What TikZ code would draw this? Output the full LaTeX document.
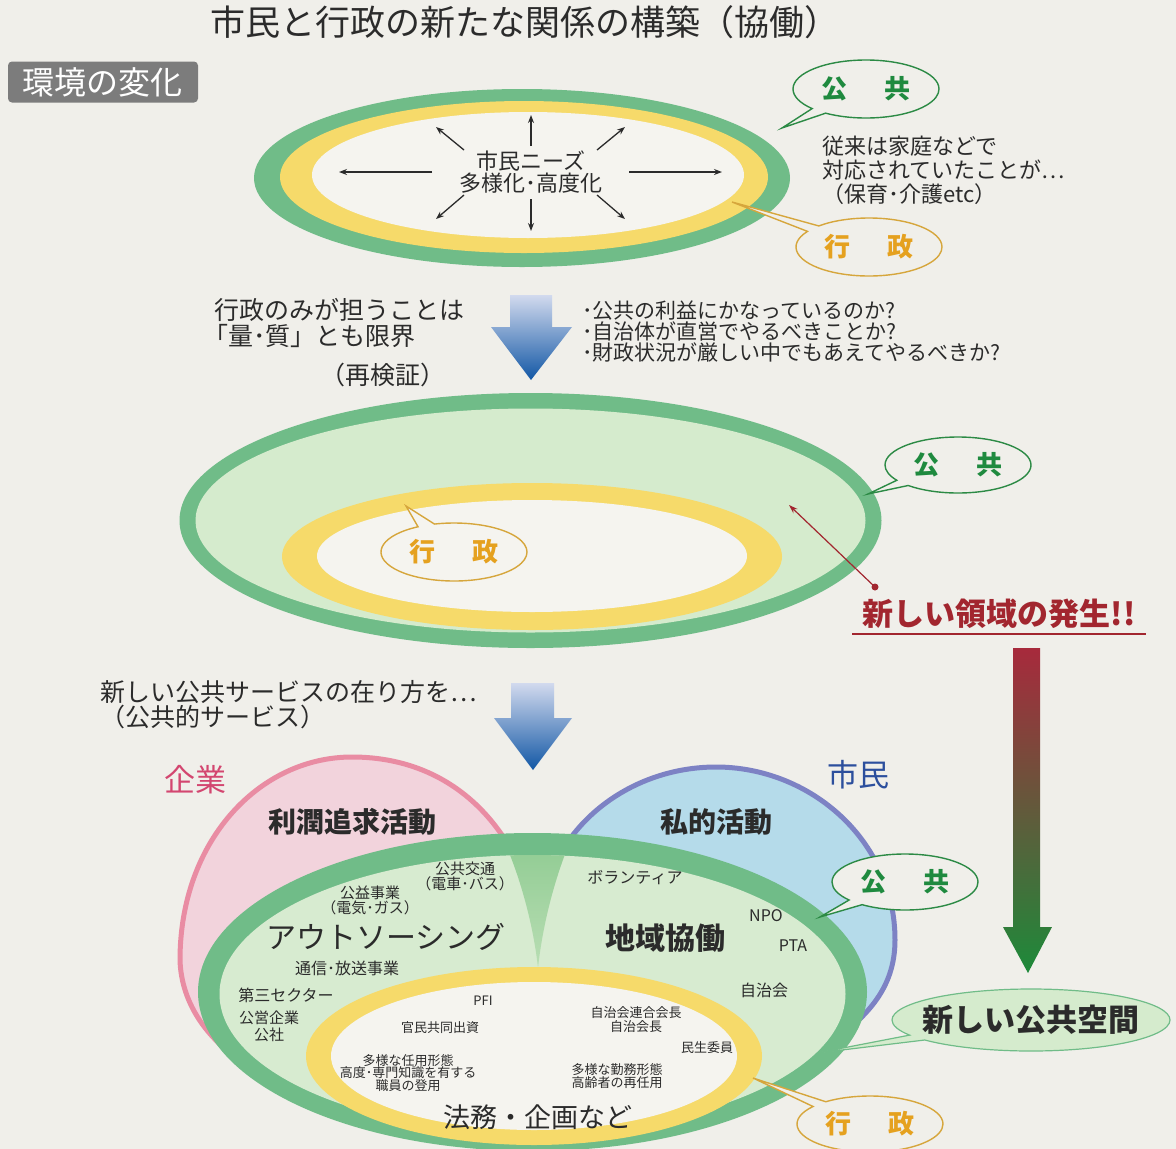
\documentclass[tikz,border=0pt]{standalone}
\usepackage{fontspec}
\setmainfont{Noto Sans CJK JP}
\usetikzlibrary{shapes.geometric,shapes.callouts,arrows.meta}
\newcommand\fsz[2]{\fontsize{#1pt}{#2pt}\selectfont}
\definecolor{paper}{HTML}{F0EFEA}
\definecolor{gband}{HTML}{70BC88}
\definecolor{yband}{HTML}{F6DA6A}
\definecolor{inwhite}{HTML}{F5F4EF}
\definecolor{lgreen}{HTML}{D5EBCD}
\definecolor{lgreentwo}{HTML}{D7EBD0}
\definecolor{kgreen}{HTML}{1F8A3F}
\definecolor{kline}{HTML}{2C8A45}
\definecolor{kgold}{HTML}{E5A11F}
\definecolor{gline}{HTML}{D6A63C}
\definecolor{pinkline}{HTML}{E98CA3}
\definecolor{pinkfill}{HTML}{F2D3DC}
\definecolor{blueline}{HTML}{7D82C4}
\definecolor{bluefill}{HTML}{B5DBEA}
\definecolor{kigyo}{HTML}{D34670}
\definecolor{shimin}{HTML}{2C4F9D}
\definecolor{darkred}{HTML}{A2262F}
\definecolor{txt}{HTML}{2B2B2B}
\definecolor{boxgray}{HTML}{7C7C7C}
\definecolor{arrowlight}{HTML}{D2DAEE}
\definecolor{arrowdark}{HTML}{1257A5}
\definecolor{lensone}{HTML}{8DCA90}
\definecolor{lenstwo}{HTML}{B9DEB4}
\definecolor{gradred}{HTML}{A72A3C}
\definecolor{gradmid}{HTML}{73803A}
\definecolor{gradgreen}{HTML}{1D8A3A}
\begin{document}
\begin{tikzpicture}[x=1pt,y=-1pt,
  lbl/.style={inner sep=0pt, text=txt, align=center},
  bubble/.style={ellipse callout, draw, line width=1.4pt, inner sep=0pt, minimum width=146pt, minimum height=58pt, fill=paper, callout pointer arc=14},
  kokyo/.style={bubble, draw=kline, text=kgreen, font=\fsz{26}{28}\bfseries},
  gyosei/.style={bubble, draw=gline, text=kgold, font=\fsz{26}{28}\bfseries},
  needarrow/.style={draw=txt, line width=1.3pt, -{Stealth[length=8pt,width=6pt]}},
  small/.style={lbl, font=\fsz{13}{12.5}},
  mid/.style={lbl, font=\fsz{15}{15}},
]
\fill[paper] (0,0) rectangle (1176,1149);
\useasboundingbox (0,0) rectangle (1176,1149);

% ---------- title
\node[lbl, font=\fsz{35}{37}] (title) at (525,22) {市民と行政の新たな関係の構築（協働）};
\node[fill=boxgray, rounded corners=4pt, text=white, font=\fsz{32}{34}, minimum width=190pt, minimum height=41pt, inner sep=0pt] (env) at (103,82) {環境の変化};

% ---------- top ellipse
\fill[gband] (522,178) ellipse [x radius=268pt, y radius=89pt];
\fill[yband] (524,177) ellipse [x radius=244pt, y radius=76pt];
\fill[inwhite] (528,175) ellipse [x radius=216pt, y radius=63pt];
\node[lbl, font=\fsz{22}{22}] (needs) at (531,172) {市民ニーズ\\多様化･高度化};
\foreach \n/\sx/\sy/\ex/\ey in {L/432/172/339/172, R/629/172/722/172, U/531/146/531/115, D/531/199/531/231, UL/464/150/436/127, UR/597/150/625/127, DL/464/195/436/219, DR/597/195/625/219}{
  \coordinate (s\n) at (\sx,\sy);
  \coordinate (e\n) at (\ex,\ey);
  \draw[needarrow] (s\n) -- (e\n);
}
\node[kokyo, callout absolute pointer={(782,128)}] (k1) at (866,89) {公\hspace{38pt}共};
\node[lbl, align=left, anchor=west, font=\fsz{22}{24}] (former) at (822,170) {従来は家庭などで\\対応されていたことが…\\（保育･介護etc）};
\node[gyosei, callout absolute pointer={(732,202)}] (g1) at (869,247) {行\hspace{38pt}政};

% ---------- arrow 1 and texts
\shade[top color=arrowlight, bottom color=arrowdark] (510,295) -- (552,295) -- (552,327) -- (572,327) -- (531,380) -- (491,327) -- (510,327) -- cycle;
\node[lbl, align=left, anchor=north west, font=\fsz{25}{26}] (limit) at (214,298) {行政のみが担うことは\\\hspace*{-11pt}「量･質」とも限界};
\node[lbl, font=\fsz{25}{26}] (recheck) at (383,375) {（再検証）};
\node[lbl, align=left, anchor=north west, font=\fsz{21}{21}] (questions) at (582,301) {･公共の利益にかなっているのか?\\･自治体が直営でやるべきことか?\\･財政状況が厳しい中でもあえてやるべきか?};

% ---------- middle ellipse
\fill[gband] (530.5,520.5) ellipse [x radius=351pt, y radius=127.5pt];
\fill[lgreen] (530.5,520.5) ellipse [x radius=335pt, y radius=112pt];
\fill[yband] (532,556.5) ellipse [x radius=250pt, y radius=73.5pt];
\fill[inwhite] (532,556) ellipse [x radius=215pt, y radius=56pt];
\node[kokyo, minimum height=56pt, callout absolute pointer={(868,494)}] (k2) at (958,465) {公\hspace{38pt}共};
\node[gyosei, fill=inwhite, callout absolute pointer={(406,506)}] (g2) at (454,552) {行\hspace{38pt}政};
\coordinate (rdot) at (875,587);
\coordinate (rtip) at (789,505);
\draw[darkred, line width=1.2pt, -{Stealth[length=9pt,width=6pt]}] (rdot) -- (rtip);
\fill[darkred] (rdot) circle [radius=3.5pt];
\node[lbl, text=darkred, font=\fsz{31}{32}\bfseries] (newarea) at (999,614) {新しい領域の発生!!};
\draw[darkred, line width=1.6pt] (852,634) -- (1146,634);

% ---------- gradient arrow
\shade[top color=gradred, middle color=gradmid, bottom color=gradgreen] (1013,648) -- (1040,648) -- (1040,927) -- (1052,927) -- (1028,973) -- (1003,927) -- (1013,927) -- cycle;

% ---------- arrow 2 and texts
\shade[top color=arrowlight, bottom color=arrowdark] (511,683) -- (554,683) -- (554,718) -- (572,718) -- (533,770) -- (494,718) -- (511,718) -- cycle;
\node[lbl, align=left, anchor=north west, font=\fsz{25}{25}] (newservice) at (100,680) {新しい公共サービスの在り方を…\\（公共的サービス）};

% ---------- bottom diagram
\filldraw[fill=pinkfill, draw=pinkline, line width=5pt] (180,960) .. controls (180,840) and (260,757) .. (352,757) .. controls (462,757) and (532,840) .. (545,960) .. controls (555,1050) and (450,1100) .. (360,1100) .. controls (250,1090) and (182,1030) .. cycle;
\filldraw[fill=bluefill, draw=blueline, line width=5pt] (716,767) .. controls (810,767) and (895,840) .. (895,940) .. controls (895,990) and (865,1020) .. (820,1050) .. controls (700,1100) and (560,1050) .. (540,940) .. controls (535,840) and (620,767) .. cycle;
\node[lbl, text=kigyo, font=\fsz{31}{32}] (kigyo) at (195,780) {企業};
\node[lbl, text=shimin, font=\fsz{31}{32}] (shimin) at (858,775) {市民};
\fill[gband] (532.5,992) ellipse [x radius=334.5pt, y radius=159pt];
\fill[lgreentwo] (532.5,994) ellipse [x radius=313pt, y radius=139pt];
\begin{scope}
  \clip (532.5,994) ellipse [x radius=313pt, y radius=139pt];
  \shade[top color=lensone, bottom color=lenstwo] (502,836) .. controls (522,880) and (534,930) .. (538,968) .. controls (542,930) and (553,880) .. (574,832) -- cycle;
\end{scope}
\fill[yband] (534,1056) ellipse [x radius=228pt, y radius=89pt];
\fill[inwhite] (534,1056) ellipse [x radius=203pt, y radius=74pt];

\node[lbl, font=\fsz{28}{30}\bfseries] (profit) at (352,822) {利潤追求活動};
\node[lbl, font=\fsz{28}{30}\bfseries] (private) at (716,822) {私的活動};
\node[mid] (transit) at (465,876) {公共交通\\（電車･バス）};
\node[mid] (utility) at (370,900) {公益事業\\（電気･ガス）};
\node[lbl, font=\fsz{30}{32}] (outsrc) at (386,937) {アウトソーシング};
\node[lbl, font=\fsz{30}{32}\bfseries] (local) at (665,938) {地域協働};
\node[lbl, font=\fsz{16}{16}] (volunteer) at (635,878) {ボランティア};
\node[lbl, font=\fsz{16}{16}] (npo) at (766,916) {NPO};
\node[lbl, font=\fsz{16}{16}] (pta) at (793,946) {PTA};
\node[lbl, font=\fsz{16}{16}] (jichikai) at (764,990) {自治会};
\node[lbl, font=\fsz{16}{16}] (telecom) at (347,968) {通信･放送事業};
\node[lbl, font=\fsz{16}{16}] (third) at (286,995) {第三セクター};
\node[lbl, font=\fsz{15}{17}] (public) at (269,1026) {公営企業\\公社};
\node[small] (pfi) at (483,1001) {PFI};
\node[small] (invest) at (440,1028) {官民共同出資};
\node[small] (hire) at (408,1073) {多様な任用形態\\高度･専門知識を有する\\職員の登用};
\node[small, font=\fsz{13}{14}] (chair) at (636,1020) {自治会連合会長\\自治会長};
\node[small] (welfare) at (707,1048) {民生委員};
\node[small] (work) at (617,1076) {多様な勤務形態\\高齢者の再任用};
\node[lbl, font=\fsz{27}{28}] (legal) at (538,1117) {法務・企画など};

\node[kokyo, minimum height=56pt, callout absolute pointer={(820,917)}] (k3) at (905,882) {公\hspace{38pt}共};
\node[bubble, fill=lgreen, draw=gband, line width=1.2pt, minimum width=278pt, minimum height=62pt, callout pointer arc=11, callout absolute pointer={(817,1053)}] (newspace) at (1031,1020) {};
\node[lbl, font=\fsz{31}{32}\bfseries] (newspacetxt) at (newspace.center) {新しい公共空間};
\node[gyosei, minimum height=56pt, callout absolute pointer={(753,1078)}] (g3) at (870,1124) {行\hspace{38pt}政};
\end{tikzpicture}
\end{document}
